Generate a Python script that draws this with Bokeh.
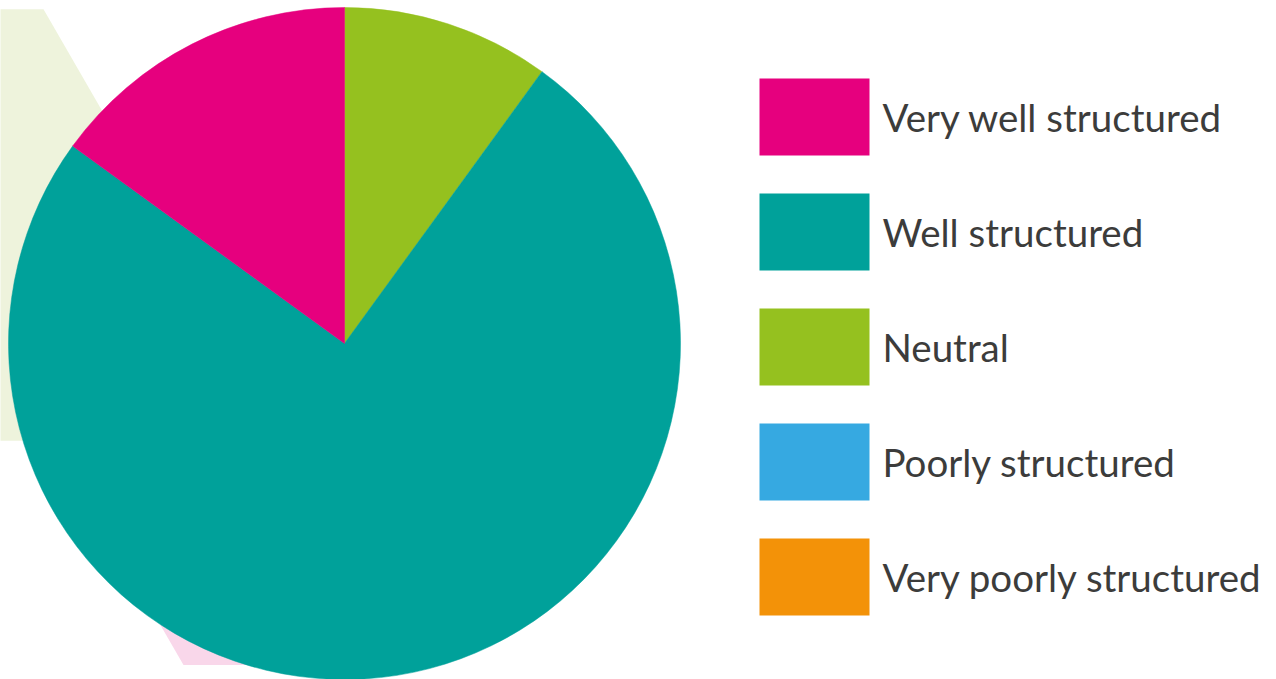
import math
from bokeh.plotting import figure
from bokeh.models import Range1d
from bokeh.core.properties import value
from bokeh.embed import file_html
from bokeh.resources import INLINE

# ---- data ----
categories = ["Very well structured", "Well structured", "Neutral",
              "Poorly structured", "Very poorly structured"]
shares = [15, 75, 10, 0, 0]
colors = ["#e6007e", "#00a19a", "#95c11f", "#36a9e1", "#f39208"]
# pie draws clockwise from 12 o'clock in this order
pie_order = [2, 1, 0, 3, 4]

W, H = 1276, 679
p = figure(width=W, height=H, output_backend="svg", toolbar_location=None,
           x_range=Range1d(0, W), y_range=Range1d(0, H),
           min_border=0, outline_line_color=None)
p.axis.visible = False
p.grid.visible = False
p.background_fill_color = "white"
p.border_fill_color = "white"

def sy(y):  # screen y -> data y
    return H - y

# decorative hexagons
def hexagon(cx, cy, s):
    xs, ys = [], []
    for k in range(6):
        a = math.radians(60 * k)
        xs.append(cx + s * math.cos(a))
        ys.append(sy(cy) + s * math.sin(a))
    return xs, ys

hx, hy = hexagon(-81.5, 224.5, 249)
p.patch(hx, hy, fill_color="#eef3dc", line_color=None)
px, py = hexagon(308, 448, 250)
p.patch(px, py, fill_color="#f9d7ea", line_color=None)

# pie
cx, cy, r = 344, sy(343), 336
total = sum(shares)
cum = 0.0
for i in pie_order:
    v = shares[i]
    if v <= 0:
        continue
    start = math.pi / 2 - cum / total * 2 * math.pi
    cum += v
    end = math.pi / 2 - cum / total * 2 * math.pi
    p.wedge(x=cx, y=cy, radius=r, start_angle=start, end_angle=end,
            direction="clock", fill_color=colors[i], line_color=colors[i],
            line_width=0.5)

# legend
for k, (name, col) in enumerate(zip(categories, colors)):
    top = 78 + 115 * k
    p.quad(left=759, right=869, top=sy(top), bottom=sy(top + 77),
           fill_color=col, line_color=None)
    p.text(x=[882], y=[sy(116.5 + 115 * k)], text=[name],
           text_font=value("Lato"), text_font_size="38.5px",
           text_color="#3c3c3b", text_baseline="middle", text_align="left")

open("out.html", "w").write(file_html(p, INLINE))
